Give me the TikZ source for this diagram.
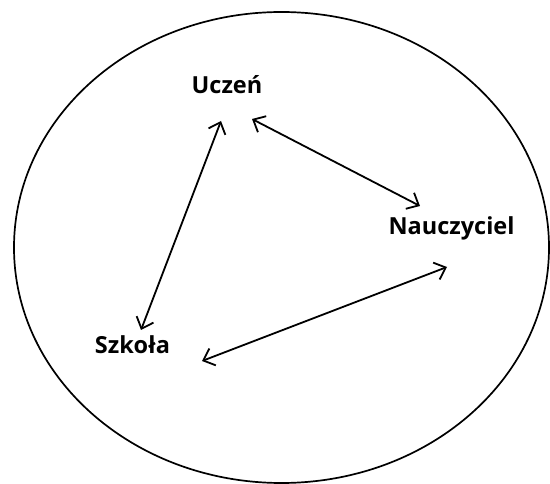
\documentclass[tikz,border=0pt]{standalone}
\usepackage{fontspec}
\setmainfont{Open Sans}
\usetikzlibrary{arrows.meta,calc}
\begin{document}
\begin{tikzpicture}[x=1pt,y=-1pt,
  lbl/.style={font=\fontsize{23.5}{28}\selectfont\bfseries, anchor=base, inner sep=0pt},
  link/.style={line width=1.8pt, {Straight Barb[length=10pt,width=18pt]}-{Straight Barb[length=10pt,width=18pt]}}]
\useasboundingbox (0,0) rectangle (550,484);
\draw[line width=1.7pt] (281.5,247.5) ellipse [x radius=267.5pt, y radius=235.5pt];
\node[lbl] (u) at (227,94) {Uczeń};
\node[lbl] (n) at (451.5,235) {Nauczyciel};
\node[lbl] (s) at (132.5,354) {Szkoła};
\draw[link] ($(u.base)+(-6,27)$) -- ($(s.base)+(8.5,-24)$);
\draw[link] ($(u.base)+(25,25)$) -- ($(n.base)+(-31.5,-29)$);
\draw[link] ($(s.base)+(69.5,7)$) -- ($(n.base)+(-4.5,32)$);
\end{tikzpicture}
\end{document}
